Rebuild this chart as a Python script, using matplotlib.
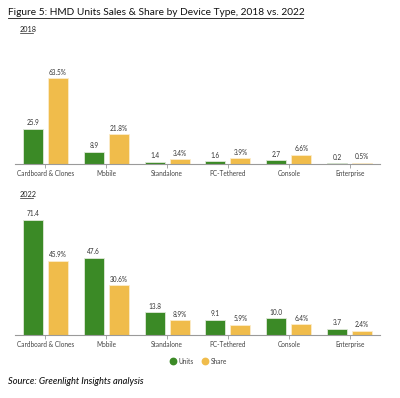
import matplotlib
matplotlib.use("Agg")
import matplotlib.pyplot as plt
from matplotlib.lines import Line2D
import numpy as np

categories = ["Cardboard & Clones", "Mobile", "Standalone", "PC-Tethered", "Console", "Enterprise"]
units_2018 = [25.9, 8.9, 1.4, 1.6, 2.7, 0.2]
share_2018 = [63.5, 21.8, 3.4, 3.9, 6.6, 0.5]
units_2022 = [71.4, 47.6, 13.8, 9.1, 10.0, 3.7]
share_2022 = [45.9, 30.6, 8.9, 5.9, 6.4, 2.4]

GREEN = "#3b8a26"
YELLOW = "#f0bc4b"
plt.rcParams['font.family'] = ['Lato', 'DejaVu Sans']

W, H = 400, 398
fig = plt.figure(figsize=(4.0, 3.98), dpi=100)

def px_axes(x0, y0, x1, y1):
    return fig.add_axes([x0 / W, 1 - y1 / H, (x1 - x0) / W, (y1 - y0) / H])

def draw(ax, units, share, ymax):
    x = np.arange(len(categories))
    w = 0.33
    off = 0.205
    b1 = ax.bar(x - off, units, w, color=GREEN, edgecolor="#dfe8d8", linewidth=0.6)
    b2 = ax.bar(x + off, share, w, color=YELLOW, edgecolor="#fbeccb", linewidth=0.6)
    for r, v in zip(b1, units):
        ax.text(r.get_x() + r.get_width() / 2, v + ymax * 0.02, f"{v:.1f}",
                ha="center", va="bottom", fontsize=4.7, color="#333333")
    for r, v in zip(b2, share):
        ax.text(r.get_x() + r.get_width() / 2, v + ymax * 0.02, f"{v:.1f}%",
                ha="center", va="bottom", fontsize=4.7, color="#333333")
    ax.set_xlim(-0.5, len(categories) - 0.5)
    ax.set_ylim(0, ymax)
    ax.set_xticks(x)
    ax.set_xticklabels(categories, fontsize=4.7, color="#444444")
    ax.tick_params(axis="x", length=3, width=0.6, color="#999999", pad=1.5)
    ax.set_yticks([])
    for s in ["top", "right", "left"]:
        ax.spines[s].set_visible(False)
    ax.spines["bottom"].set_color("#9a9a9a")
    ax.spines["bottom"].set_linewidth(0.8)

ax1 = px_axes(15, 45, 380, 163.5)
draw(ax1, units_2018, share_2018, 118.5 / 1.34)
ax2 = px_axes(15, 205, 380, 334.5)
draw(ax2, units_2022, share_2022, 129.5 / 1.61)

# Title with underline
fig.text(8 / W, 1 - 12.5 / H, "Figure 5: HMD Units Sales & Share by Device Type, 2018 vs. 2022",
         fontsize=7.3, color="#111111", va="center", ha="left")
fig.add_artist(Line2D([8 / W, 303 / W], [1 - 18 / H, 1 - 18 / H], color="#111111", lw=0.6))

fig.text(20 / W, 1 - 29.5 / H, "2018", fontsize=5.2, color="#222222", va="center", ha="left")
fig.add_artist(Line2D([20 / W, 33 / W], [1 - 33 / H] * 2, color="#222222", lw=0.5))
fig.text(20 / W, 1 - 194.5 / H, "2022", fontsize=5.2, color="#222222", va="center", ha="left")
fig.add_artist(Line2D([20 / W, 33 / W], [1 - 198 / H] * 2, color="#222222", lw=0.5))

# Legend
handles = [Line2D([], [], marker="o", linestyle="none", markersize=4.6, color=GREEN, label="Units"),
           Line2D([], [], marker="o", linestyle="none", markersize=4.6, color=YELLOW, label="Share")]
fig.legend(handles=handles, loc="center", bbox_to_anchor=(198 / W, 1 - 361 / H), ncol=2,
           frameon=False, fontsize=4.8, handletextpad=0.25, columnspacing=1.1,
           handlelength=1.2, labelcolor="#444444")

fig.text(8 / W, 1 - 381 / H, "Source: Greenlight Insights analysis", fontsize=6.7,
         style="italic", weight="medium", color="#111111", va="center", ha="left")

fig.savefig("out.png", dpi=100)
